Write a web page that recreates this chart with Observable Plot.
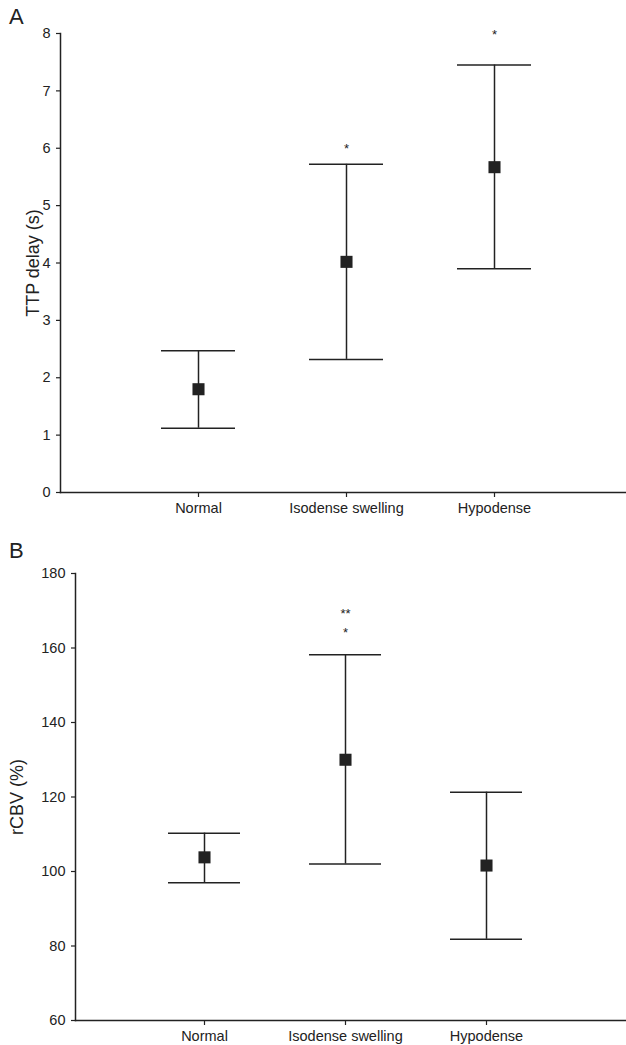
<!DOCTYPE html>
<html><head><meta charset="utf-8">
<script src="https://cdn.jsdelivr.net/npm/d3@7"></script>
<script src="https://cdn.jsdelivr.net/npm/@observablehq/plot@0.6"></script>
<style>
body{margin:0;background:#fff;}
#wrap{position:relative;width:626px;height:1045px;font-family:"Liberation Sans",Arial,sans-serif;color:#222;}
.panel{position:absolute;left:0;}
.letter{position:absolute;left:9px;font-size:22px;line-height:1;color:#222;}
</style></head><body><div id="wrap"></div>
<script>
// Categories
const groups = ["Normal", "Isodense swelling", "Hypodense"];

// Panel A: TTP delay (s)
const ttpMean = [1.80, 4.02, 5.67];
const ttpLow  = [1.12, 2.32, 3.90];
const ttpHigh = [2.47, 5.72, 7.45];
const ttpTicks = [0, 1, 2, 3, 4, 5, 6, 7, 8];
const ttpStarGroups = ["Isodense swelling", "Hypodense"];
const ttpStarY = [6.08, 8.07];
const ttpStarLabels = ["*", "*"];

// Panel B: rCBV (%)
const cbvMean = [103.8, 130.0, 101.6];
const cbvLow  = [97.0, 102.0, 81.8];
const cbvHigh = [110.3, 158.2, 121.3];
const cbvTicks = [60, 80, 100, 120, 140, 160, 180];
const cbvStarGroups = ["Isodense swelling", "Isodense swelling"];
const cbvStarY = [170.4, 165.3];
const cbvStarLabels = ["**", "*"];

const INK = "#222";
const wrap = document.getElementById("wrap");

function panel({mean, low, high, ticks, starGroups, starY, starLabels, label, labelOffset,
                top, height, marginTop, marginBottom, marginLeft, xRange, paddingInner}) {
  const rows = groups.map((g, i) => ({g, mean: mean[i], lo: low[i], hi: high[i]}));
  const stars = starGroups.map((g, i) => ({g, y: starY[i], label: starLabels[i]}));
  const chart = Plot.plot({
    width: 626,
    height,
    marginTop,
    marginBottom,
    marginLeft,
    marginRight: 0,
    style: {fontFamily: '"Liberation Sans", Arial, sans-serif', color: INK, background: "#fff"},
    x: {type: "band", domain: groups, range: xRange, paddingInner, paddingOuter: 0},
    y: {domain: [ticks[0], ticks[ticks.length - 1]]},
    marks: [
      Plot.frame({anchor: "left", stroke: INK, strokeWidth: 1.5}),
      Plot.frame({anchor: "bottom", stroke: INK, strokeWidth: 1.5}),
      Plot.axisY({ticks, tickSize: 4, tickPadding: 6, fontSize: 14.5, label: null, stroke: INK, strokeWidth: 1.2}),
      Plot.axisY({ticks: [], tickSize: 0, fontSize: 18, label, labelAnchor: "center", labelOffset, labelArrow: "none"}),
      Plot.axisX({tickSize: 5, tickPadding: 5, fontSize: 14.5, label: null, stroke: INK, strokeWidth: 1.2}),
      Plot.ruleX(rows, {x: "g", y1: "lo", y2: "hi", stroke: INK, strokeWidth: 1.5}),
      Plot.tickY(rows, {x: "g", y: "lo", stroke: INK, strokeWidth: 1.5}),
      Plot.tickY(rows, {x: "g", y: "hi", stroke: INK, strokeWidth: 1.5}),
      Plot.dot(rows, {x: "g", y: "mean", symbol: "square", r: 6.8, fill: INK, stroke: null}),
      Plot.text(stars, {x: "g", y: "y", text: "label", fontSize: 13, lineAnchor: "top", fill: INK})
    ]
  });
  const div = document.createElement("div");
  div.className = "panel";
  div.style.top = top + "px";
  div.appendChild(chart);
  wrap.appendChild(div);
}

panel({
  mean: ttpMean, low: ttpLow, high: ttpHigh, ticks: ttpTicks,
  starGroups: ttpStarGroups, starY: ttpStarY, starLabels: ttpStarLabels,
  label: "TTP delay (s)", labelOffset: 34,
  top: 0, height: 530, marginTop: 33, marginBottom: 38, marginLeft: 60,
  xRange: [160, 531], paddingInner: 0.5
});

panel({
  mean: cbvMean, low: cbvLow, high: cbvHigh, ticks: cbvTicks,
  starGroups: cbvStarGroups, starY: cbvStarY, starLabels: cbvStarLabels,
  label: "rCBV (%)", labelOffset: 65,
  top: 530, height: 515, marginTop: 43, marginBottom: 25, marginLeft: 75,
  xRange: [167, 522], paddingInner: 0.49
});

for (const [t, top] of [["A", 6], ["B", 540]]) {
  const d = document.createElement("div");
  d.className = "letter";
  d.style.top = top + "px";
  d.textContent = t;
  wrap.appendChild(d);
}
</script>
</body></html>
